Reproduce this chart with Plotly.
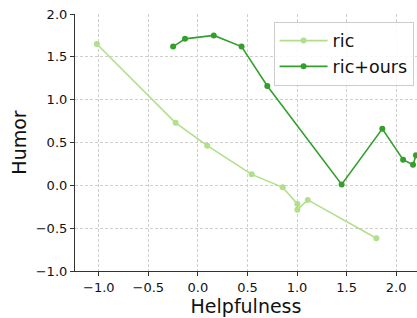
import plotly.graph_objects as go

ric_x = [-1.02, -0.225, 0.094, 0.542, 0.855, 1.003, 1.003, 1.108, 1.80]
ric_y = [1.65, 0.73, 0.463, 0.128, -0.023, -0.217, -0.284, -0.17, -0.618]

ours_x = [-0.25, -0.13, 0.16, 0.44, 0.70, 1.45, 1.86, 2.07, 2.17, 2.20]
ours_y = [1.62, 1.71, 1.75, 1.62, 1.16, 0.01, 0.66, 0.30, 0.24, 0.35]

x_ticks = [-1.0, -0.5, 0.0, 0.5, 1.0, 1.5, 2.0]
y_ticks = [-1.0, -0.5, 0.0, 0.5, 1.0, 1.5, 2.0]

fig = go.Figure()
fig.add_trace(go.Scatter(x=ric_x, y=ric_y, mode="lines+markers", name="ric",
                         line=dict(color="#b2df8a", width=1.6),
                         marker=dict(color="#b2df8a", size=6)))
fig.add_trace(go.Scatter(x=ours_x, y=ours_y, mode="lines+markers", name="ric+ours",
                         line=dict(color="#33a02c", width=1.6),
                         marker=dict(color="#33a02c", size=6)))

axis_common = dict(
    showgrid=True, gridcolor="#cfcfcf", griddash="3px,2px", gridwidth=1,
    zeroline=False, showline=True, linecolor="#333333", linewidth=1.2,
    ticks="outside", ticklen=4, tickcolor="#333333", tickformat=".1f",
    tickfont=dict(family="DejaVu Sans", size=13, color="#111111"),
    automargin=False,
)

fig.update_layout(
    width=417, height=318,
    margin=dict(l=75, r=0, t=14, b=47),
    plot_bgcolor="white", paper_bgcolor="white",
    font=dict(family="DejaVu Sans", color="#111111"),
    xaxis=dict(range=[-1.24, 2.21], tickvals=x_ticks,
               title=dict(text="Helpfulness", font=dict(size=19), standoff=2),
               **axis_common),
    yaxis=dict(range=[-1.0, 2.0], tickvals=y_ticks,
               title=dict(text="Humor", font=dict(size=19), standoff=4),
               **axis_common),
    legend=dict(x=0.99, y=0.97, xanchor="right", yanchor="top",
                bgcolor="rgba(255,255,255,0.85)", bordercolor="#cccccc", borderwidth=1,
                font=dict(family="DejaVu Sans", size=17.5, color="#111111"),
                tracegroupgap=1, itemwidth=48),
    showlegend=True,
)

fig.write_html("out.html", config={"displayModeBar": False},
               post_script="document.body.style.margin='0';")
